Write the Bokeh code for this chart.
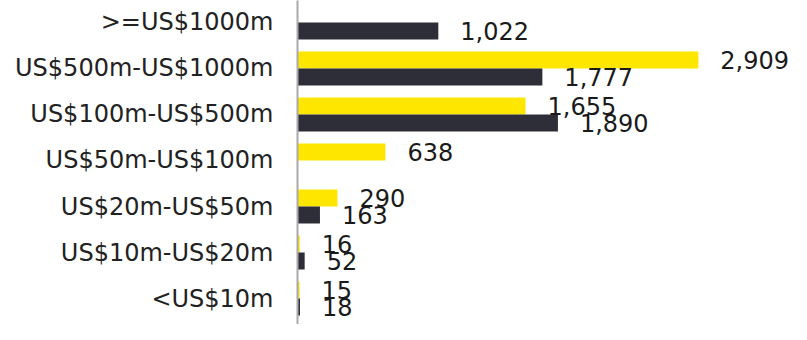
import numpy as np
from bokeh.plotting import figure
from bokeh.models import ColumnDataSource, Range1d, FixedTicker
from bokeh.embed import file_html
from bokeh.resources import INLINE
from bokeh.core.properties import value

categories = [">=US$1000m", "US$500m-US$1000m", "US$100m-US$500m", "US$50m-US$100m",
              "US$20m-US$50m", "US$10m-US$20m", "<US$10m"]
yellow_values = [None, 2909, 1655, 638, 290, 16, 15]
dark_values = [1022, 1777, 1890, None, 163, 52, 18]

YELLOW = "#FFE600"
DARK = "#2E2E38"
FONT = "DejaVu Sans"

n = len(categories)
pos = list(range(n - 1, -1, -1))  # top category drawn highest

p = figure(width=791, height=324, y_range=Range1d(-0.565, 6.478), x_range=Range1d(0, 3585),
           output_backend="svg", toolbar_location=None,
           min_border_left=297, min_border_right=0, min_border_top=0, min_border_bottom=0)

off = 0.185
bar_h = 0.37

def src(vals, o):
    yy = [y + o for y, v in zip(pos, vals) if v is not None]
    v = [v for v in vals if v is not None]
    return ColumnDataSource(dict(y=yy, val=v, lab=[f"{x:,}" for x in v]))

ys = src(yellow_values, off)
ds = src(dark_values, -off)

p.hbar(y="y", right="val", left=0, height=bar_h, source=ys, fill_color=YELLOW, line_color=None)
p.hbar(y="y", right="val", left=0, height=bar_h, source=ds, fill_color=DARK, line_color=None)

for s in (ys, ds):
    p.text(x="val", y="y", text="lab", source=s,
           x_offset=22, text_align="left", text_baseline="middle",
           text_font=value(FONT), text_font_size="24px", text_color="#1a1a1a")

p.xaxis.visible = False
p.xgrid.visible = False
p.ygrid.visible = False
p.outline_line_color = None
ax = p.yaxis[0]
ax.ticker = FixedTicker(ticks=pos)
ax.major_label_overrides = {pos[i]: categories[i] for i in range(n)}
ax.major_tick_line_color = None
ax.minor_tick_line_color = None
ax.major_tick_out = 0
ax.major_tick_in = 0
ax.major_label_standoff = 24
ax.major_label_text_font = FONT
ax.major_label_text_font_size = "24px"
ax.major_label_text_color = "#222222"
ax.axis_line_color = "#aaaaaa"
ax.axis_line_width = 2

open("out.html", "w").write(file_html(p, INLINE))
